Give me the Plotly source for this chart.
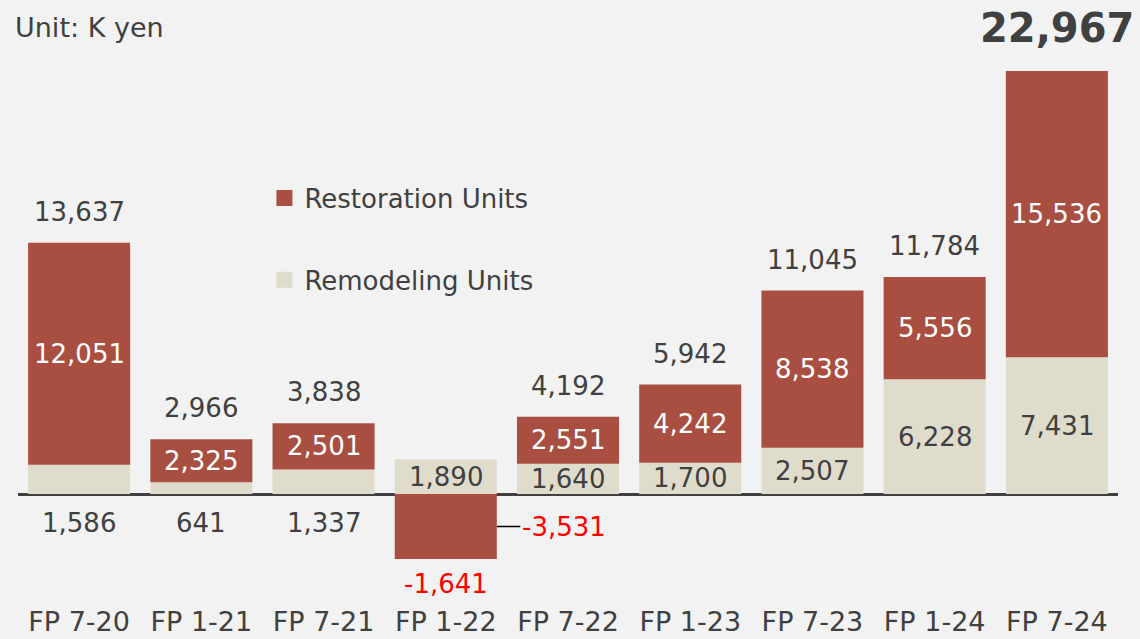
import plotly.graph_objects as go

categories = ["FP 7-20", "FP 1-21", "FP 7-21", "FP 1-22", "FP 7-22",
              "FP 1-23", "FP 7-23", "FP 1-24", "FP 7-24"]
remodeling = [1586, 641, 1337, 1890, 1640, 1700, 2507, 6228, 7431]
restoration = [12051, 2325, 2501, -3531, 2551, 4242, 8538, 5556, 15536]
totals = [13637, 2966, 3838, -1641, 4192, 5942, 11045, 11784, 22967]

RED = "#a84f42"
BEIGE = "#e0dccb"
BG = "#f2f2f2"
TXT = "#404040"
FONT = "DejaVu Sans"

fig = go.Figure()
fig.add_trace(go.Bar(x=categories, y=remodeling, name="Remodeling Units",
                     marker=dict(color=BEIGE, line=dict(width=0)),
                     showlegend=False, hoverinfo="skip"))
fig.add_trace(go.Bar(x=categories, y=restoration, name="Restoration Units",
                     marker=dict(color=RED, line=dict(width=0)),
                     showlegend=False, hoverinfo="skip"))
# legend proxies
fig.add_trace(go.Scatter(x=[None], y=[None], mode="markers", name="Restoration Units",
                         marker=dict(symbol="square", size=17, color=RED),
                         legendgroup="a"))
fig.add_trace(go.Scatter(x=[None], y=[None], mode="markers", name="Remodeling Units",
                         marker=dict(symbol="square", size=17, color=BEIGE),
                         legendgroup="b"))

ann = []
for i, c in enumerate(categories):
    r, rs, t = remodeling[i], restoration[i], totals[i]
    # remodeling label
    if r >= 1600:
        ann.append(dict(x=c, y=r / 2, text=f"{r:,}", showarrow=False,
                        font=dict(size=26, color=TXT), yanchor="middle"))
    else:
        ann.append(dict(x=c, y=0, text=f"{r:,}", showarrow=False,
                        font=dict(size=26, color=TXT), yanchor="middle", yshift=-29))
    # restoration label
    if rs >= 0:
        ann.append(dict(x=c, y=r + rs / 2, text=f"{rs:,}", showarrow=False,
                        font=dict(size=26, color="white"), yanchor="middle"))
    else:
        ann.append(dict(x=i + 0.4175, y=rs / 2, xref="x", text=f"{rs:,}",
                        showarrow=True, arrowhead=0, arrowwidth=1.5, arrowcolor="#000000",
                        ax=67, ay=0, font=dict(size=26, color="#ff0000")))
    # total label
    if t >= 0:
        big = i == len(categories) - 1
        ann.append(dict(x=c, y=r + rs, text=(f"<b>{t:,}</b>" if big else f"{t:,}"),
                        showarrow=False, yanchor="middle",
                        yshift=(43 if big else 31),
                        font=dict(size=(40 if big else 26), color=TXT)))
    else:
        ann.append(dict(x=c, y=min(rs, 0), text=f"{t:,}", showarrow=False,
                        yanchor="middle", yshift=-25,
                        font=dict(size=26, color="#ff0000")))

# plot area 60..603 px, zero line at ~494 px
fig.update_layout(
    width=1140, height=639,
    barmode="relative", bargap=0.165,
    paper_bgcolor=BG, plot_bgcolor=BG,
    margin=dict(l=18, r=22, t=60, b=36, autoexpand=False),
    font=dict(family=FONT, color=TXT),
    title=dict(text="Unit: K yen", x=15 / 1140, xanchor="left", xref="container",
               y=1 - 28 / 639, yanchor="middle", yref="container",
               font=dict(size=27, color=TXT, family=FONT)),
    xaxis=dict(type="category", showgrid=False, showline=False, ticks="",
               tickfont=dict(size=27, color=TXT), range=[-0.5, 8.5], automargin=False),
    yaxis=dict(range=[-5918, 23564], showgrid=False, showticklabels=False,
               zeroline=True, zerolinecolor="#404040", zerolinewidth=2.5, automargin=False),
    legend=dict(x=0.224, y=0.789, xanchor="left", yanchor="top",
                font=dict(size=26, color=TXT), bgcolor="rgba(0,0,0,0)",
                tracegroupgap=45, itemsizing="trace"),
    annotations=ann,
    showlegend=True,
)

fig.write_html("out.html", config={"displayModeBar": False},
               post_script="document.body.style.margin='0';document.body.style.overflow='hidden';")
